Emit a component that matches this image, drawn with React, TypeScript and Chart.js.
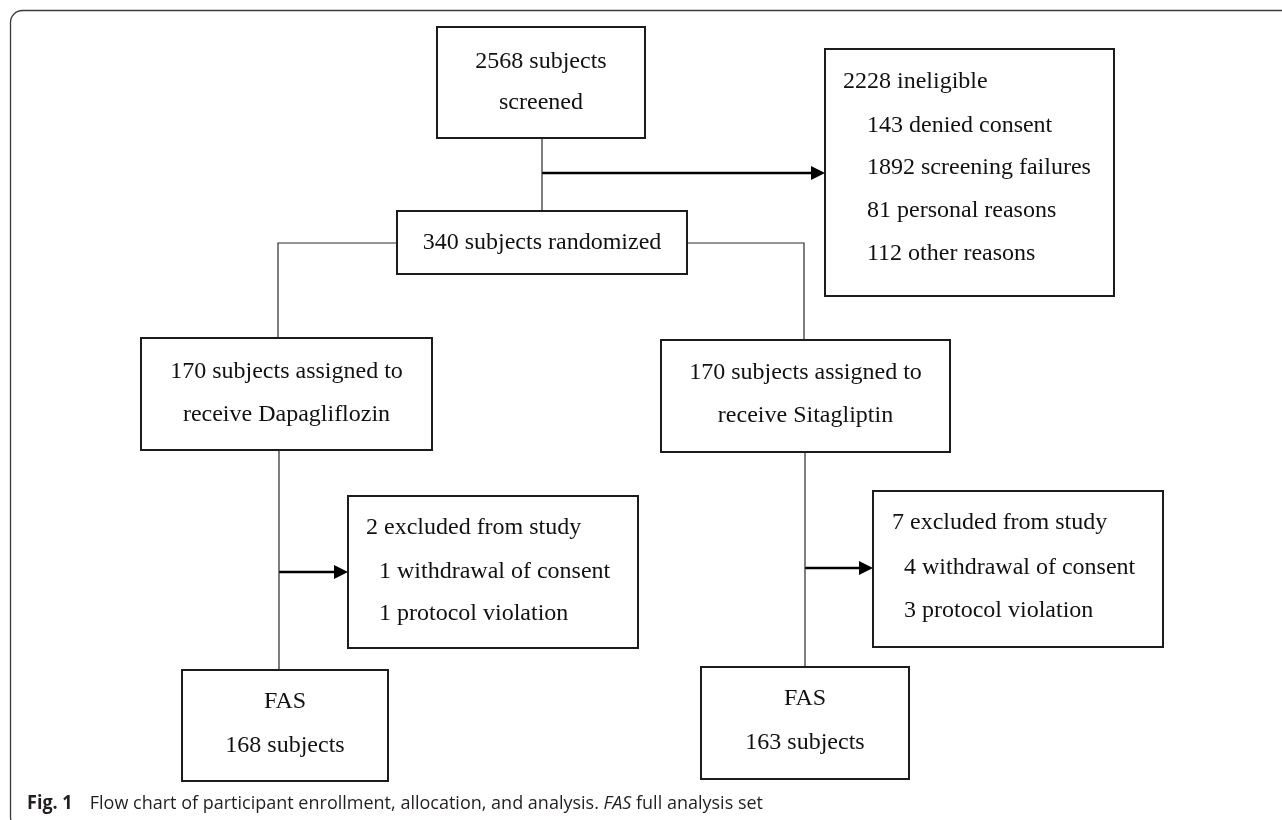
import React, { useEffect, useRef } from "react";
import { Chart, registerables } from "chart.js";

Chart.register(...registerables);

const W = 1282;
const H = 820;

// ---- Content (text of each box) ----
const boxLines: string[][] = [
  ["2568 subjects", "screened"],
  ["2228 ineligible", "143 denied consent", "1892 screening failures", "81 personal reasons", "112 other reasons"],
  ["340 subjects randomized"],
  ["170 subjects assigned to", "receive Dapagliflozin"],
  ["170 subjects assigned to", "receive Sitagliptin"],
  ["2 excluded from study", "1 withdrawal of consent", "1 protocol violation"],
  ["7 excluded from study", "4 withdrawal of consent", "3 protocol violation"],
  ["FAS", "168 subjects"],
  ["FAS", "163 subjects"],
];

// ---- Layout of the flow chart (chart units) ----
const boxX0 = [437, 825, 397, 141, 661, 348, 873, 182, 701];
const boxY0 = [27, 49, 211, 338, 340, 496, 491, 670, 667];
const boxX1 = [645, 1114, 687, 432, 950, 638, 1163, 388, 909];
const boxY1 = [138, 296, 274, 450, 452, 648, 647, 781, 779];
const lineY: number[][] = [
  [62, 103],
  [82, 126, 168, 211, 254],
  [243],
  [372, 415],
  [373, 416],
  [528, 572, 614],
  [523, 568, 611],
  [702, 746],
  [699, 743],
];
// null = centred in box; otherwise left edge of each text line
const lineX: (number[] | null)[] = [
  null,
  [843, 867, 867, 867, 867],
  null,
  null,
  null,
  [366, 379, 379],
  [892, 904, 904],
  null,
  null,
];

const connectors: number[][][] = [
  [[542, 138], [542, 211]],
  [[397, 243], [278, 243], [278, 338]],
  [[687, 243], [804, 243], [804, 340]],
  [[279, 450], [279, 670]],
  [[805, 452], [805, 667]],
];
const arrows: number[][][] = [
  [[542, 173], [825, 173]],
  [[279, 572], [348, 572]],
  [[805, 568], [873, 568]],
];

const captionBold = "Fig. 1";
const captionText = "Flow chart of participant enrollment, allocation, and analysis. ";
const captionItalic = "FAS";
const captionTail = " full analysis set";

const HEAD_LEN = 14;
const HEAD_HALF = 7;

function buildDatasets() {
  const ds: any[] = [];
  for (let i = 0; i < boxX0.length; i++) {
    const x0 = boxX0[i], y0 = boxY0[i], x1 = boxX1[i], y1 = boxY1[i];
    ds.push({
      data: [
        { x: x0, y: y0 }, { x: x1, y: y0 }, { x: x1, y: y1 },
        { x: x0, y: y1 }, { x: x0, y: y0 }, { x: x1, y: y0 },
      ],
      showLine: true, fill: false, pointRadius: 0, borderWidth: 2,
      borderColor: "#1c1c1c", tension: 0, borderJoinStyle: "miter", borderCapStyle: "butt",
    });
  }
  for (const c of connectors) {
    ds.push({
      data: c.map(([x, y]) => ({ x, y })),
      showLine: true, fill: false, pointRadius: 0, borderWidth: 1.2,
      borderColor: "#2a2a2a", tension: 0, borderJoinStyle: "miter", borderCapStyle: "butt",
    });
  }
  for (const a of arrows) {
    const [s, e] = a;
    ds.push({
      data: [{ x: s[0], y: s[1] }, { x: e[0] - HEAD_LEN + 2, y: e[1] }],
      showLine: true, fill: false, pointRadius: 0, borderWidth: 2.6,
      borderColor: "#000", tension: 0, borderCapStyle: "butt",
    });
  }
  return ds;
}

const framePlugin = {
  id: "frame",
  beforeDatasetsDraw(chart: any) {
    const ctx = chart.ctx;
    const sx = chart.scales.x, sy = chart.scales.y;
    const x0 = sx.getPixelForValue(10.5), y0 = sy.getPixelForValue(10.5);
    const x1 = sx.getPixelForValue(W + 20), y1 = sy.getPixelForValue(H + 9);
    const r = 12;
    ctx.save();
    ctx.strokeStyle = "#3a3a3a";
    ctx.lineWidth = 1.3;
    ctx.beginPath();
    ctx.moveTo(x0 + r, y0);
    ctx.lineTo(x1, y0);
    ctx.moveTo(x0, y0 + r);
    ctx.lineTo(x0, y1 - r);
    ctx.arcTo(x0, y1, x0 + r, y1, r);
    ctx.moveTo(x0, y0 + r);
    ctx.arcTo(x0, y0, x0 + r, y0, r);
    ctx.stroke();
    ctx.restore();
  },
};

const arrowPlugin = {
  id: "arrowHeads",
  afterDatasetsDraw(chart: any) {
    const ctx = chart.ctx;
    const sx = chart.scales.x, sy = chart.scales.y;
    ctx.save();
    ctx.fillStyle = "#000";
    for (const a of arrows) {
      const tipX = sx.getPixelForValue(a[1][0]);
      const tipY = sy.getPixelForValue(a[1][1]);
      ctx.beginPath();
      ctx.moveTo(tipX, tipY);
      ctx.lineTo(tipX - HEAD_LEN, tipY - HEAD_HALF);
      ctx.lineTo(tipX - HEAD_LEN, tipY + HEAD_HALF);
      ctx.closePath();
      ctx.fill();
    }
    ctx.restore();
  },
};

const textPlugin = {
  id: "boxText",
  afterDatasetsDraw(chart: any) {
    const ctx = chart.ctx;
    const sx = chart.scales.x, sy = chart.scales.y;
    ctx.save();
    ctx.fillStyle = "#111";
    ctx.font = '24px "Liberation Serif", "Times New Roman", serif';
    ctx.textBaseline = "middle";
    boxLines.forEach((lines, i) => {
      const lx = lineX[i];
      lines.forEach((t, j) => {
        const y = sy.getPixelForValue(lineY[i][j]);
        if (lx) {
          ctx.textAlign = "left";
          ctx.fillText(t, sx.getPixelForValue(lx[j]), y);
        } else {
          ctx.textAlign = "center";
          ctx.fillText(t, sx.getPixelForValue((boxX0[i] + boxX1[i]) / 2), y);
        }
      });
    });
    ctx.restore();
  },
};

const captionPlugin = {
  id: "caption",
  afterDraw(chart: any) {
    const ctx = chart.ctx;
    const sx = chart.scales.x, sy = chart.scales.y;
    const left = sx.getPixelForValue(27);
    const right = sx.getPixelForValue(763);
    const base = sy.getPixelForValue(809);
    const size = 19;
    const fam = '"Open Sans", "Noto Sans", sans-serif';
    const fb = `bold ${size}px ${fam}`;
    const fr = `${size}px ${fam}`;
    const fi = `italic ${size}px ${fam}`;
    ctx.save();
    ctx.font = fb;
    const wb = ctx.measureText(captionBold).width;
    ctx.font = fr;
    const wr = ctx.measureText(captionText).width;
    const wt = ctx.measureText(captionTail).width;
    ctx.font = fi;
    const wi = ctx.measureText(captionItalic).width;
    const gap = 18;
    const total = wb + gap + wr + wi + wt;
    const k = (right - left) / total;
    ctx.translate(left, base);
    ctx.scale(k, 1);
    ctx.fillStyle = "#231f20";
    ctx.textBaseline = "alphabetic";
    ctx.textAlign = "left";
    let x = 0;
    ctx.font = fb;
    ctx.fillText(captionBold, x, 0);
    x += wb + gap;
    ctx.font = fr;
    ctx.fillText(captionText, x, 0);
    x += wr;
    ctx.font = fi;
    ctx.fillText(captionItalic, x, 0);
    x += wi;
    ctx.font = fr;
    ctx.fillText(captionTail, x, 0);
    ctx.restore();
  },
};

export default function App() {
  const ref = useRef<HTMLCanvasElement>(null);
  useEffect(() => {
    const canvas = ref.current!;
    const chart = new Chart(canvas, {
      type: "scatter",
      data: { datasets: buildDatasets() },
      options: {
        animation: false,
        responsive: false,
        devicePixelRatio: 1,
        layout: { padding: 0 },
        events: [],
        scales: {
          x: { type: "linear", min: 0, max: W, display: false },
          y: { type: "linear", min: 0, max: H, reverse: true, display: false },
        },
        plugins: { legend: { display: false }, tooltip: { enabled: false } },
      },
      plugins: [framePlugin, arrowPlugin, textPlugin, captionPlugin],
    } as any);
    return () => chart.destroy();
  }, []);
  return (
    <div style={{ position: "absolute", left: 0, top: 0, width: W, height: H, background: "#fff" }}>
      <canvas ref={ref} width={W} height={H} style={{ display: "block" }} />
    </div>
  );
}
